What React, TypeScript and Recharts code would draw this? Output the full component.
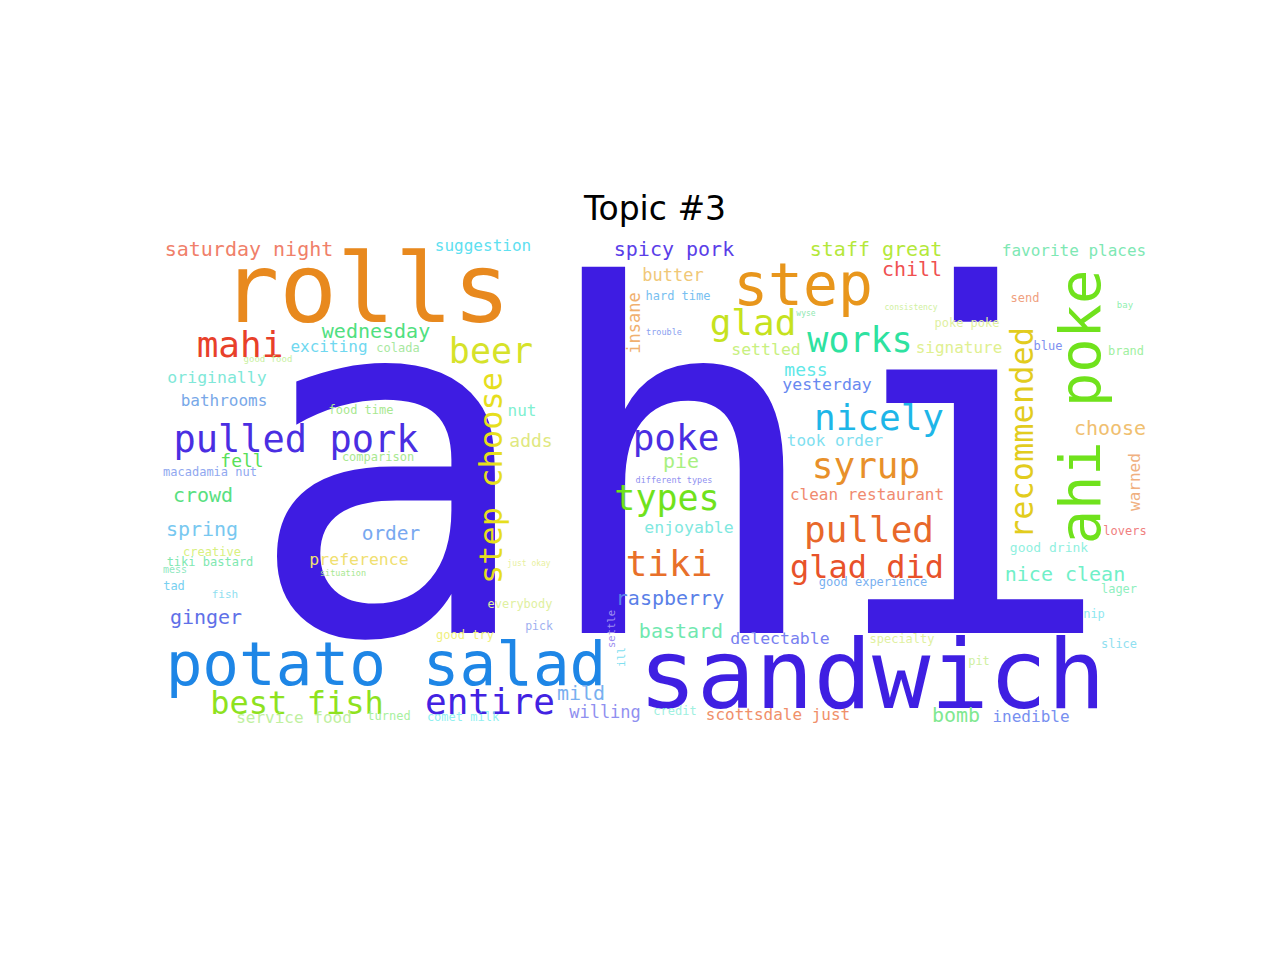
import React from "react";
import { ScatterChart, Scatter, XAxis, YAxis } from "recharts";

// word cloud for topic #3: text, weight (font px), anchor position, colour
const title = "Topic #3";

const words = [
  "ahi", "rolls", "potato salad", "sandwich", "step", "ahi poke", "recommended", "step choose",
  "pulled pork", "mahi", "beer", "glad", "works", "nicely", "poke", "syrup", "types", "pulled",
  "tiki", "glad did", "best fish", "entire", "spicy pork", "saturday night", "staff great",
  "favorite places", "suggestion", "chill", "butter", "insane", "hard time", "trouble",
  "wednesday", "exciting", "colada", "good food", "originally", "bathrooms", "food time", "nut",
  "adds", "fell", "comparison", "macadamia nut", "crowd", "spring", "order", "creative",
  "tiki bastard", "preference", "situation", "mess", "tad", "fish", "ginger", "raspberry",
  "bastard", "delectable", "enjoyable", "pie", "different types", "just okay", "everybody",
  "pick", "good try", "settle", "ill", "mild", "willing", "service food", "turned", "comet milk",
  "credit", "scottsdale just", "bomb", "inedible", "specialty", "pit", "slice", "nip", "lager",
  "nice clean", "good drink", "good experience", "lovers", "warned", "choose", "clean restaurant",
  "took order", "mess", "yesterday", "settled", "signature", "poke poke", "consistency", "wyse",
  "send", "bay", "blue", "brand",
];

const weights = [
  482, 96, 61, 97, 58, 57, 32, 32,
  37, 36, 35, 36, 35, 36, 36, 36, 35, 36,
  36, 32, 32, 36, 20, 20, 20,
  16, 16, 20, 17, 17, 12, 8.5,
  20, 16, 12, 9, 16.5, 16, 12, 16,
  18, 18, 12, 12, 20, 20, 19.5, 12,
  12, 16.5, 8.5, 10, 12, 11, 20, 20,
  20, 16.5, 16.5, 20, 8.5, 8, 12,
  11.5, 12, 10.5, 11, 20, 17, 16, 12, 12,
  12, 16, 20, 16, 12, 12, 12, 12, 12,
  20, 13, 12, 12, 16, 20, 16,
  16, 18, 16.5, 16.5, 16, 12, 8, 8,
  12, 9, 12, 12,
];

const posX = [
  681, 366, 386, 872, 803, 1100, 1033, 502,
  296, 240, 491, 753, 860, 879, 676, 866, 667, 869,
  669, 867, 297, 490, 674, 249, 876,
  1074, 483, 912, 673, 640, 678, 664,
  376, 329, 398, 268, 217, 224, 361, 522,
  531, 242, 378, 210, 203, 202, 391, 212,
  210, 359, 343, 175, 174, 225, 206, 670,
  681, 780, 689, 681, 674, 529, 520,
  539, 465, 615, 625, 581, 605, 294, 389, 463,
  675, 778, 956, 1031, 902, 979, 1119, 1094, 1119,
  1065, 1049, 873, 1125, 1140, 1110, 867,
  835, 806, 827, 766, 959, 967, 911, 806,
  1025, 1125, 1048, 1126,
];

const posY = [
  633, 322, 685, 708, 305, 407, 433, 478,
  452, 357, 363, 335, 352, 430, 450, 478, 510, 542,
  576, 578, 714, 714, 256, 256, 256,
  256, 251, 276, 281, 323, 300, 335,
  338, 352, 352, 362, 383, 406, 414, 416,
  447, 467, 461, 476, 502, 536, 540, 556,
  566, 565, 576, 573, 590, 598, 624, 605,
  638, 644, 533, 468, 483, 566, 608,
  630, 639, 629, 657, 700, 718, 723, 720, 721,
  715, 720, 722, 722, 643, 665, 648, 618, 593,
  581, 552, 586, 535, 482, 435, 500,
  446, 376, 390, 355, 353, 327, 310, 316,
  302, 308, 350, 355,
];

const colors = [
  "#3e1ce2", "#e8891e", "#1e86e6", "#3f1fe2", "#e8961c", "#70e21c", "#e2cc1e", "#e6de1e",
  "#4a2ee2", "#e8402a", "#d6e22a", "#c6e21e", "#2ee2a0", "#1eb6e8", "#4a2ee2", "#e8902a", "#70e21c", "#e8682a",
  "#e8702a", "#e8522a", "#8ee21e", "#4222e2", "#5a3ee8", "#f0806a", "#b4e83a",
  "#7ee8b4", "#5ee0f0", "#f05050", "#f0c878", "#f0b070", "#78c0f0", "#8aa0f0",
  "#50e080", "#70d8f0", "#a8e8a0", "#c8f0a0", "#80e8d8", "#78a8e8", "#a8e890", "#80f0d0",
  "#e0e880", "#58e058", "#a8e890", "#90a8f0", "#58e080", "#78c8f0", "#78a8f0", "#d8f080",
  "#80e8b0", "#f0e070", "#a8e890", "#90e8c0", "#78d0f0", "#90e0f0", "#6070e8", "#5a80e8",
  "#70e8b0", "#7880f0", "#80e8e0", "#a8f080", "#9090f0", "#e8f0a0", "#e0f0a0",
  "#a0b0f0", "#f0f080", "#a090f0", "#80e0f0", "#78b0f0", "#9090f0", "#c0f0a0", "#a8f0a0", "#90f0f0",
  "#a0f0e0", "#f0906a", "#80e890", "#7890f0", "#e0f0a0", "#d0f0a0", "#90e0f0", "#90e8f0", "#90f0c0",
  "#70f0c8", "#90f0e0", "#78b0f0", "#f08080", "#f0b080", "#f0c070", "#f08a70",
  "#80e0f0", "#60e8e8", "#6888f0", "#c8f080", "#e0f090", "#e0f0a0", "#d0f0a0", "#90e8b0",
  "#f0a080", "#90f0b0", "#8090f0", "#a0f0a0",
];

// words laid out reading bottom-to-top
const vertical = [5, 6, 7, 29, 65, 66, 85];

const cloud = words.map((word, i) => ({
  word,
  x: posX[i],
  y: posY[i],
  weight: weights[i],
  color: colors[i],
  up: vertical.includes(i),
}));

const WordShape = (props: any) => {
  const { cx, cy, payload } = props;
  return (
    <text
      x={cx}
      y={cy}
      fontSize={payload.weight}
      fill={payload.color}
      textAnchor="middle"
      fontFamily="'DejaVu Sans Mono', monospace"
      transform={payload.up ? `rotate(-90, ${cx}, ${cy})` : undefined}
    >
      {payload.word}
    </text>
  );
};

export default function App() {
  return (
    <div style={{ position: "absolute", left: 0, top: 0, width: 1280, height: 960, background: "#fff" }}>
      <div
        style={{
          position: "absolute",
          left: 0,
          width: 1310,
          top: 189,
          textAlign: "center",
          fontFamily: "'DejaVu Sans', sans-serif",
          fontSize: 33,
          color: "#000",
        }}
      >
        {title}
      </div>
      <ScatterChart width={1280} height={960} margin={{ top: 0, right: 0, bottom: 0, left: 0 }}>
        <XAxis type="number" dataKey="x" domain={[0, 1280]} hide />
        <YAxis type="number" dataKey="y" domain={[0, 960]} reversed hide />
        <Scatter data={cloud} shape={WordShape} isAnimationActive={false} />
      </ScatterChart>
    </div>
  );
}
